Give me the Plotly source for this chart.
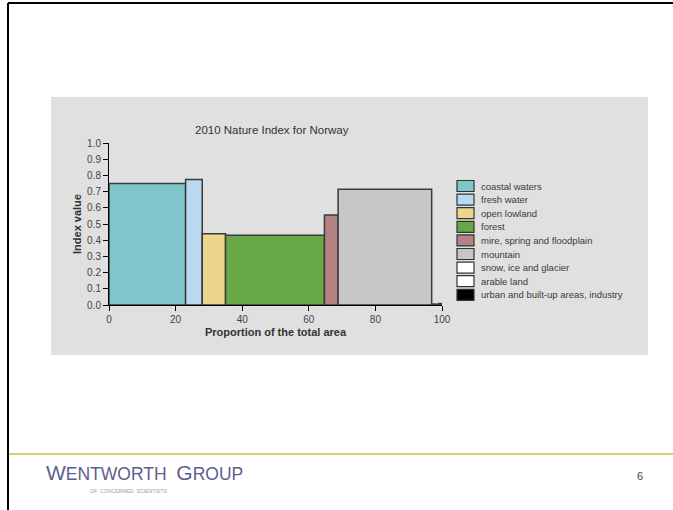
import plotly.graph_objects as go
import numpy as np

# ---- data ----
categories = ["coastal waters", "fresh water", "open lowland", "forest",
              "mire, spring and floodplain", "mountain", "snow, ice and glacier",
              "arable land", "urban and built-up areas, industry"]
proportions = [23.0, 5.0, 7.0, 29.7, 4.1, 28.1, 0.7, 1.4, 1.0]
index_values = [0.75, 0.775, 0.44, 0.43, 0.555, 0.715, 0.005, 0.005, 0.01]
colors = ["#7fc6cb", "#b9d9f1", "#ecd58c", "#69a847", "#b48283",
          "#c6c6c6", "#ffffff", "#ffffff", "#000000"]
x_ticks = [0, 20, 40, 60, 80, 100]
y_ticks = [round(0.1 * i, 1) for i in range(11)]

W, H = 673, 510
FONT = "Liberation Sans Narrow, Arial Narrow, Liberation Sans, sans-serif"

def px(x):
    return x / W

def py(y):
    return 1 - y / H

lefts = np.concatenate([[0], np.cumsum(proportions)[:-1]])
centers = lefts + np.array(proportions) / 2

fig = go.Figure()
fig.add_trace(go.Bar(
    x=centers, y=index_values, width=proportions, base=0,
    marker=dict(color=colors, line=dict(color="#3a3a3a", width=1.5)),
    showlegend=False, hoverinfo="skip",
))

shapes = []
annotations = []

# slide border (left + top)
shapes.append(dict(type="line", xref="paper", yref="paper",
                   x0=px(8), x1=px(8), y0=py(3), y1=py(510),
                   line=dict(color="black", width=2)))
shapes.append(dict(type="line", xref="paper", yref="paper",
                   x0=px(8), x1=px(673), y0=py(3), y1=py(3),
                   line=dict(color="black", width=2)))
# grey panel
shapes.append(dict(type="rect", xref="paper", yref="paper", layer="below",
                   x0=px(51), x1=px(648), y0=py(355), y1=py(97),
                   fillcolor="#e0e0e0", line=dict(width=0)))
# footer line
shapes.append(dict(type="line", xref="paper", yref="paper",
                   x0=px(9), x1=px(673), y0=py(454), y1=py(454),
                   line=dict(color="#d6cf72", width=2)))

# manual legend
leg_x0, leg_x1 = 457, 474
leg_y_start, leg_step = 186, 13.6
for i, (cat, col) in enumerate(zip(categories, colors)):
    yc = leg_y_start + i * leg_step
    shapes.append(dict(type="rect", xref="paper", yref="paper",
                       x0=px(leg_x0), x1=px(leg_x1), y0=py(yc + 5.5), y1=py(yc - 5.5),
                       fillcolor=col, line=dict(color="#333333", width=1.2)))
    annotations.append(dict(xref="paper", yref="paper", x=px(479), y=py(yc),
                            text=cat, showarrow=False, xanchor="left", yanchor="middle",
                            font=dict(family=FONT, size=9.5, color="#3a3a3a")))

# chart title
annotations.append(dict(xref="paper", yref="paper", x=px(272), y=py(130),
                        text="2010 Nature Index for Norway", showarrow=False,
                        xanchor="center", yanchor="middle",
                        font=dict(family=FONT, size=11.5, color="#333333")))

# footer texts
annotations.append(dict(xref="paper", yref="paper", x=px(44), y=py(472),
                        text="<span style='font-size:21px'>W</span>ENTWORTH  "
                             "<span style='font-size:21px'>G</span>ROUP",
                        showarrow=False, xanchor="left", yanchor="middle",
                        font=dict(family="Liberation Sans, Arial, sans-serif",
                                  size=17.5, color="#5e5e90")))
annotations.append(dict(xref="paper", yref="paper", x=px(88), y=py(491),
                        text="OF  CONCERNED  SCIENTISTS", showarrow=False,
                        xanchor="left", yanchor="middle",
                        font=dict(family="Liberation Sans, Arial, sans-serif",
                                  size=5.2, color="#9c9cb4")))
annotations.append(dict(xref="paper", yref="paper", x=px(640), y=py(476),
                        text="6", showarrow=False, xanchor="center", yanchor="middle",
                        font=dict(family="Liberation Sans, Arial, sans-serif",
                                  size=11, color="#444444")))

fig.update_layout(
    width=W, height=H,
    margin=dict(l=0, r=0, t=0, b=0, autoexpand=False),
    paper_bgcolor="white", plot_bgcolor="white",
    shapes=shapes, annotations=annotations,
    font=dict(family=FONT, size=10, color="#444444"),
    xaxis=dict(domain=[px(109), px(442)], range=[0, 100], tickvals=x_ticks,
               automargin=False,
               ticks="outside", ticklen=5, tickwidth=1, tickcolor="black",
               showline=True, linecolor="black", linewidth=1,
               showgrid=False, zeroline=False,
               tickfont=dict(family=FONT, size=10, color="#444444"),
               title=dict(text="<b>Proportion of the total area</b>", standoff=4,
                          font=dict(family=FONT, size=11, color="#333333"))),
    yaxis=dict(domain=[py(305), py(143)], range=[0, 1], tickvals=y_ticks,
               tickformat=".1f", automargin=False,
               ticks="outside", ticklen=5, tickwidth=1, tickcolor="black",
               showline=True, linecolor="black", linewidth=1,
               showgrid=False, zeroline=False,
               tickfont=dict(family=FONT, size=10, color="#444444"),
               title=dict(text="<b>Index value</b>", standoff=3,
                          font=dict(family=FONT, size=11, color="#333333"))),
)

fig.write_html("out.html")
